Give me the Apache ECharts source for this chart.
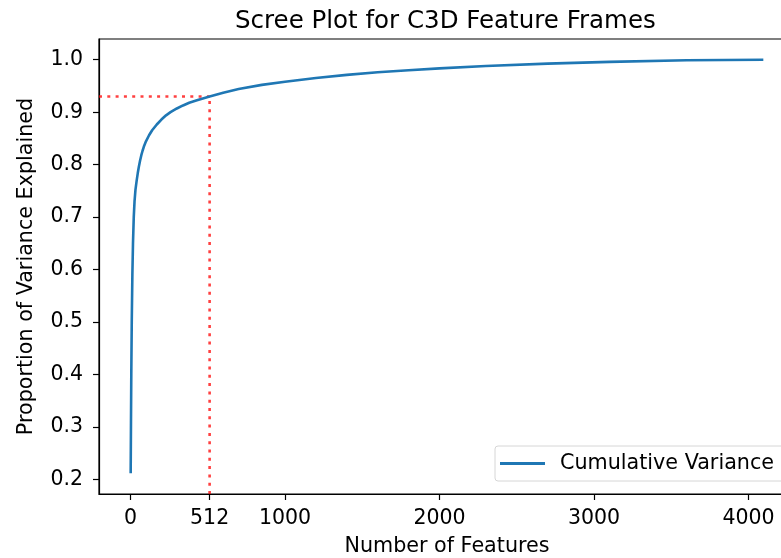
<!DOCTYPE html>
<html>
<head>
<meta charset="utf-8">
<script src="https://cdn.jsdelivr.net/npm/echarts@6/dist/echarts.min.js"></script>
<style>html,body{margin:0;padding:0;background:#fff}#c{width:781px;height:558px}</style>
</head>
<body>
<div id="c"></div>
<script>
const features = [1, 2, 3, 5, 8, 12, 16, 21, 26, 32, 40, 47, 54, 62, 70, 78, 86, 100, 120, 140, 170, 200, 230, 259, 300, 340, 380, 430, 512, 600, 700, 850, 1000, 1200, 1400, 1600, 1800, 2000, 2300, 2700, 3100, 3600, 4096];
const cumVariance = [0.212, 0.26, 0.31, 0.40, 0.50, 0.59, 0.65, 0.70, 0.730, 0.752, 0.770, 0.784, 0.796, 0.808, 0.818, 0.8265, 0.834, 0.8445, 0.856, 0.8655, 0.8765, 0.886, 0.894, 0.900, 0.907, 0.9128, 0.918, 0.9228, 0.930, 0.937, 0.944, 0.952, 0.958, 0.965, 0.971, 0.976, 0.980, 0.9835, 0.988, 0.9925, 0.9958, 0.9988, 1.0];
const refX = 512;
const refY = 0.93;
const xTicks = [0, 512, 1000, 2000, 3000, 4000];
const yTicks = [0.2, 0.3, 0.4, 0.5, 0.6, 0.7, 0.8, 0.9, 1.0];
const xMin = -204, xMax = 4301;
const yMin = 0.1726, yMax = 1.0394;

const font = 'DejaVu Sans';
const chart = echarts.init(document.getElementById('c'), null, {renderer: 'canvas'});
const lineData = features.map((f, i) => [f, cumVariance[i]]);
chart.setOption({
  animation: false,
  backgroundColor: '#fff',
  title: {
    text: 'Scree Plot for C3D Feature Frames',
    left: 230, top: 4,
    textStyle: {fontFamily: font, fontSize: 24.5, fontWeight: 'normal', color: '#000'}
  },
  grid: {left: 99, top: 39, width: 696, height: 455, show: true, borderColor: '#000', borderWidth: 1.2, containLabel: false, outerBoundsMode: 'none'},
  legend: {
    left: 495, top: 446,
    data: [{name: 'Cumulative Variance', icon: 'rect'}],
    itemWidth: 45, itemHeight: 3,
    padding: [7, 20, 7, 5],
    backgroundColor: '#fff', borderColor: '#d6d6d6', borderWidth: 1, borderRadius: 3,
    textStyle: {fontFamily: font, fontSize: 20.7, color: '#000', padding: [0, 0, 0, 10]}
  },
  xAxis: {
    type: 'value', min: xMin, max: xMax,
    name: 'Number of Features', nameLocation: 'middle', nameGap: 42,
    nameTextStyle: {fontFamily: font, fontSize: 20.7, color: '#000'},
    axisLine: {show: true, onZero: false, lineStyle: {color: '#000', width: 1.2}},
    axisTick: {show: true, length: 6, inside: false, customValues: xTicks, lineStyle: {color: '#000', width: 1.2}},
    axisLabel: {customValues: xTicks, margin: 14, fontFamily: font, fontSize: 20.5, color: '#000',
      formatter: v => String(v)},
    splitLine: {show: false}
  },
  yAxis: {
    type: 'value', min: yMin, max: yMax,
    name: 'Proportion of Variance Explained', nameLocation: 'middle', nameGap: 62,
    nameTextStyle: {fontFamily: font, fontSize: 20.7, color: '#000'},
    axisLine: {show: true, onZero: false, lineStyle: {color: '#000', width: 1.2}},
    axisTick: {show: true, length: 6, inside: false, customValues: yTicks, lineStyle: {color: '#000', width: 1.2}},
    axisLabel: {customValues: yTicks, margin: 16, fontFamily: font, fontSize: 20.5, color: '#000',
      formatter: v => v.toFixed(1)},
    splitLine: {show: false}
  },
  series: [
    {
      name: 'Cumulative Variance', type: 'line', data: lineData, smooth: false,
      showSymbol: false, symbol: 'none',
      lineStyle: {color: '#1f77b4', width: 2.6},
      itemStyle: {color: '#1f77b4'}, z: 3
    },
    {
      name: 'refH', type: 'line', data: [[xMin, refY], [refX, refY]], showSymbol: false, symbol: 'none',
      lineStyle: {color: 'rgba(255,0,0,0.75)', width: 2.6, type: [3, 5.3]}, z: 2, silent: true
    },
    {
      name: 'refV', type: 'line', data: [[refX, yMin], [refX, refY]], showSymbol: false, symbol: 'none',
      lineStyle: {color: 'rgba(255,0,0,0.75)', width: 2.6, type: [3, 5.3]}, z: 2, silent: true
    }
  ]
});
</script>
</body>
</html>
